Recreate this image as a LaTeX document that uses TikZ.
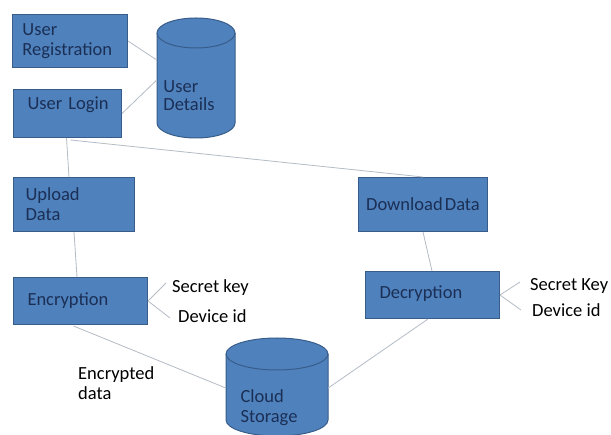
\documentclass[tikz,border=0pt]{standalone}
\usepackage{fontspec}
\setmainfont{Carlito}
\begin{document}
\begin{tikzpicture}[x=1pt,y=-1pt,
  font=\fontsize{18.5}{20}\selectfont,
  procbox/.style={draw=boxedge,fill=boxfill,line width=1pt,text=boxtext,
    align=left,inner sep=0pt,anchor=north west},
  tag/.style={anchor=west,inner sep=0pt,text=black},
  link/.style={draw=linkgray,line width=0.8pt},
  dbshape/.style={draw=boxedge,fill=boxfill,line width=1pt}]
\definecolor{boxfill}{HTML}{4F81BD}
\definecolor{boxedge}{HTML}{385D8A}
\definecolor{boxtext}{HTML}{1B2F55}
\definecolor{linkgray}{HTML}{B4BCC6}
\clip (0,0) rectangle (611,435);
\fill[white] (0,0) rectangle (611,435);

% process boxes
\node[procbox,minimum width=115,minimum height=53,text width=115] (reg) at (12,14)
  {\hspace*{10pt}User\\\hspace*{10pt}Registration};
\node[procbox,minimum width=108,minimum height=48,text width=108] (login) at (13,89)
  {\hspace*{14pt}User Login\\ \mbox{}};
\node[procbox,minimum width=121,minimum height=54,text width=121] (upload) at (13,177)
  {\hspace*{12pt}Upload\\\hspace*{12pt}Data};
\node[procbox,minimum width=134,minimum height=47,text width=134] (enc) at (13,277)
  {\hspace*{14pt}Encryption};
\node[procbox,minimum width=129,minimum height=54,align=center] (down) at (358,177)
  {Download\hspace{-2pt} Data};
\node[procbox,minimum width=134,minimum height=47,text width=134] (dec) at (365,271)
  {\hspace*{14pt}Decryption\\[-14pt]\mbox{}};

% cylinder: user details
\path[dbshape] (157,33) -- (157,123) arc[start angle=180,end angle=0,x radius=39,y radius=15]
  -- (235,33) arc[start angle=0,end angle=-180,x radius=39,y radius=15] -- cycle;
\draw[boxedge,line width=1pt] (157,33) arc[start angle=180,end angle=0,x radius=39,y radius=15];
\node[inner sep=0pt,minimum width=78,align=left,text=boxtext] (ud) at (196,96)
  {\hspace*{-14pt}User\\[-2pt]\hspace*{-14pt}Details};

% cylinder: cloud storage
\path[dbshape] (226,354) -- (226,420) arc[start angle=180,end angle=0,x radius=51,y radius=16]
  -- (328,354) arc[start angle=0,end angle=-180,x radius=51,y radius=16] -- cycle;
\draw[boxedge,line width=1pt] (226,354) arc[start angle=180,end angle=0,x radius=51,y radius=16];
\node[inner sep=0pt,minimum width=102,align=left,text=boxtext] (cloud) at (277,408)
  {\hspace*{-16pt}Cloud\\\hspace*{-16pt}Storage};

% key labels
\node[tag] (ekey) at (172,288) {Secret key};
\node[tag] (eid) at (178,316) {Device id};
\node[tag] (dkey) at (530,286) {Secret Key};
\node[tag] (did) at (532,310) {Device id};
\node[tag,align=left] (encdata) at (78,383) {Encrypted\\data};

\coordinate (ekeyend) at (166,283);
\coordinate (eidend) at (170,318);
\coordinate (dkeyend) at (520,282);
\coordinate (didend) at (521,310);

% connectors
\draw[link] (reg.east) -- (ud.west |- 0,60);
\draw[link] (login.east) -- (ud.west |- 0,80);
\draw[link] (login.south) ++(-1,0) -- (upload.north -| 69,0);
\draw[link] (login.south) ++(3,2) -- (down.north);
\draw[link] (upload.south) -- (enc.north -| 77,0);
\draw[link] (enc.east) -- (ekeyend);
\draw[link] (enc.east) -- (eidend);
\draw[link] (dec.east) -- (dkeyend);
\draw[link] (dec.east) -- (didend);
\draw[link] (enc.south) ++(-7,1) -- (cloud.west |- 0,388);
\draw[link] (cloud.east |- 0,388) -- (dec.south -| 428,0);
\draw[link] (dec.north -| 432,0) -- (down.south);
\end{tikzpicture}
\end{document}
